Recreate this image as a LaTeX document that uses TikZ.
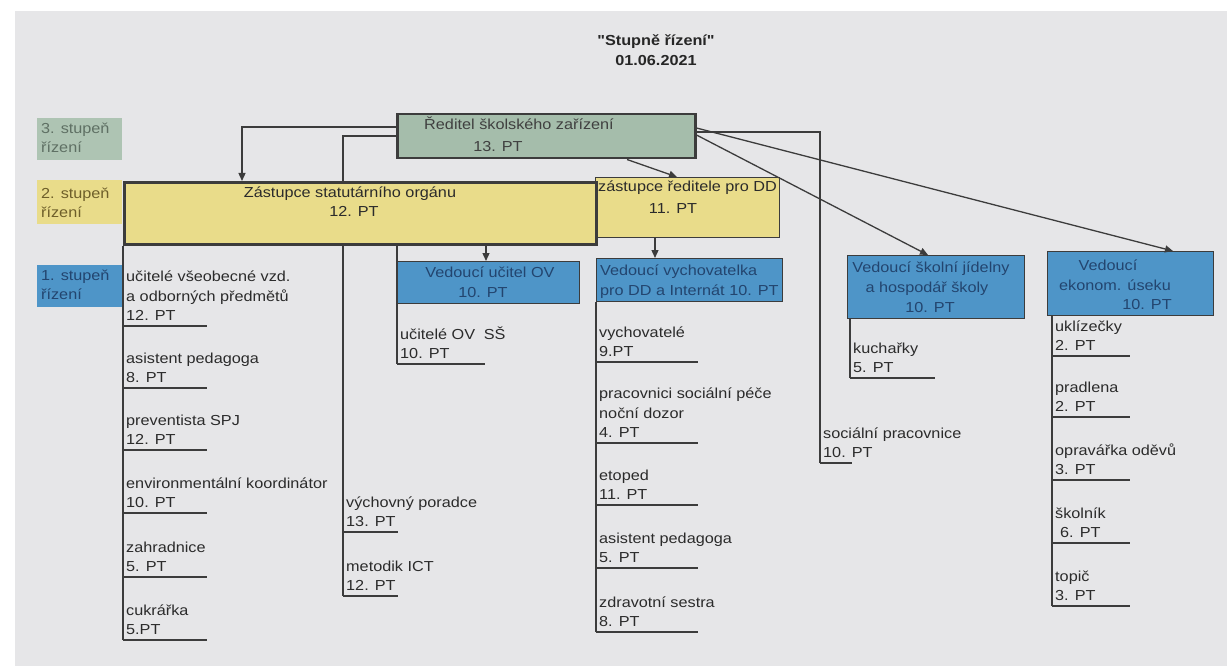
\documentclass[tikz,border=0pt]{standalone}
\usepackage{fontspec}
\setmainfont{Liberation Sans}[FakeStretch=1.12]
\usetikzlibrary{arrows.meta,calc}
\definecolor{bg}{HTML}{E6E6E8}
\definecolor{grn}{HTML}{A5BDAB}
\definecolor{yel}{HTML}{E9DC8A}
\definecolor{blu}{HTML}{4E95C8}
\definecolor{ink}{HTML}{2B2B2B}
\definecolor{navy}{HTML}{23456F}
\definecolor{grntxt}{HTML}{5F7064}
\definecolor{yeltxt}{HTML}{6E5F2A}
\definecolor{edge}{HTML}{3C3C3C}
\pgfdeclarelayer{bgfill}
\pgfdeclarelayer{lines}
\pgfsetlayers{bgfill,lines,main}
\newcommand\orgitem[5]{%
  \node[item] (#1) at (#2+3,#3-5) {#5};
  \draw[line] ($(#1.south west)+(-3,5)$) -- ++(#4,0);}
\begin{document}
\begin{tikzpicture}[x=1pt,y=-1pt,
  txt/.style={inner sep=0pt, text=ink, font=\fontsize{14.5}{19.5}\selectfont, align=left},
  item/.style={txt, anchor=south west},
  box/.style={draw=edge, line width=1.2pt, inner sep=0pt, anchor=north west},
  legend/.style={draw=none, inner sep=0pt, anchor=north west, minimum width=85pt},
  line/.style={draw=edge, line width=1.3pt},
  arr/.style={line, -{Triangle[length=8pt,width=7pt]}}]
\useasboundingbox (0,0) rectangle (1227,666);
\begin{pgfonlayer}{bgfill}
\fill[white] (0,0) rectangle (1227,666);
\fill[bg] (15,11) rectangle (1227,666);
\end{pgfonlayer}

% title
\node[txt, align=center, font=\bfseries\fontsize{14.5}{20}\selectfont\addfontfeatures{Ligatures=TeXOff}, text=black!85] (title) at (656,50) {"Stupně řízení"\\01.06.2021};

% legend
\node[legend, fill=grn!90, minimum height=42pt] (lg3) at (37,118) {};
\node[item, text=grntxt] (lg3t) at (41,153) {3. stupeň\\řízení};
\node[legend, fill=yel, minimum height=44pt] (lg2) at (37,180) {};
\node[item, text=yeltxt] (lg2t) at (41,218) {2. stupeň\\řízení};
\node[legend, fill=blu, minimum height=42pt] (lg1) at (37,265) {};
\node[item, text=navy] (lg1t) at (41,300) {1. stupeň\\řízení};

% boxes
\node[box, fill=grn, line width=2.5pt, minimum width=298pt, minimum height=44pt] (dir) at (396,113) {};
\node[box, fill=yel, minimum width=184pt, minimum height=60pt] (zrdd) at (595,177) {};
\node[box, fill=yel, line width=3pt, minimum width=472pt, minimum height=62pt] (zast) at (123,181) {};
\node[box, fill=blu, minimum width=182pt, minimum height=42pt] (ov) at (397,261) {};
\node[box, fill=blu, minimum width=186pt, minimum height=43pt] (vych) at (596,258) {};
\node[box, fill=blu, minimum width=177pt, minimum height=63pt] (jid) at (847,255) {};
\node[box, fill=blu, minimum width=166pt, minimum height=64pt] (eko) at (1047,251) {};

% box texts
\node[txt, anchor=base, text=black!75] (dirt1) at (519,130) {Ředitel školského zařízení};
\node[txt, anchor=base, text=black!75] (dirt2) at (498,152) {13. PT};
\node[txt, anchor=base] (zastt1) at (350,197) {Zástupce statutárního orgánu};
\node[txt, anchor=base] (zastt2) at (354,217) {12. PT};
\node[txt, anchor=base west] (zrddt1) at (598,192) {zástupce ředitele pro DD};
\node[txt, anchor=base] (zrddt2) at (673,213) {11. PT};
\node[txt, anchor=base, text=navy] (ovt1) at (490,277) {Vedoucí učitel OV};
\node[txt, anchor=base, text=navy] (ovt2) at (483,297) {10. PT};
\node[txt, anchor=base west, text=navy] (vycht1) at (600,275) {Vedoucí vychovatelka};
\node[txt, anchor=base west, text=navy] (vycht2) at (600,295) {pro DD a Internát 10. PT};
\node[txt, anchor=base, text=navy] (jidt1) at (931,272) {Vedoucí školní jídelny};
\node[txt, anchor=base, text=navy] (jidt2) at (927,292) {a hospodář školy};
\node[txt, anchor=base, text=navy] (jidt3) at (930,312) {10. PT};
\node[txt, anchor=base, text=navy] (ekot1) at (1108,270) {Vedoucí};
\node[txt, anchor=base, text=navy] (ekot2) at (1115,290) {ekonom. úseku};
\node[txt, anchor=base, text=navy] (ekot3) at (1147,309) {10. PT};

% lists
\orgitem{a1}{123}{326}{84}{učitelé všeobecné vzd.\\a odborných předmětů\\12. PT}
\orgitem{a2}{123}{388}{84}{asistent pedagoga\\8. PT}
\orgitem{a3}{123}{450}{84}{preventista SPJ\\12. PT}
\orgitem{a4}{123}{513}{84}{environmentální koordinátor\\10. PT}
\orgitem{a5}{123}{577}{84}{zahradnice\\5. PT}
\orgitem{a6}{123}{640}{84}{cukrářka\\5.PT}
\orgitem{b1}{343}{532}{55}{výchovný poradce\\13. PT}
\orgitem{b2}{343}{596}{55}{metodik ICT\\12. PT}
\orgitem{o1}{397}{364}{88}{učitelé OV\hspace{0.6em}SŠ\\10. PT}
\orgitem{c1}{596}{362}{102}{vychovatelé\\9.PT}
\orgitem{c2}{596}{443}{102}{pracovnici sociální péče\\noční dozor\\4. PT}
\orgitem{c3}{596}{505}{102}{etoped\\11. PT}
\orgitem{c4}{596}{568}{102}{asistent pedagoga\\5. PT}
\orgitem{c5}{596}{632}{102}{zdravotní sestra\\8. PT}
\orgitem{k1}{850}{378}{85}{kuchařky\\5. PT}
\orgitem{s1}{820}{463}{32}{sociální pracovnice\\10. PT}
\orgitem{e1}{1052}{356}{78}{uklízečky\\2. PT}
\orgitem{e2}{1052}{417}{78}{pradlena\\2. PT}
\orgitem{e3}{1052}{480}{78}{opravářka oděvů\\3. PT}
\orgitem{e4}{1052}{543}{78}{školník\\\hspace*{5pt}6. PT}
\orgitem{e5}{1052}{606}{78}{topič\\3. PT}

% vertical list lines (behind the boxes)
\begin{pgfonlayer}{lines}
\draw[line] (zast.south west) -- ($(a6.south west)+(-3,5)$);
\draw[line] ($(dir.north west)+(0,23)$) -| ($(b2.south west)+(-3,5)$);
\draw[line] (zast.south -| ov.west) -- ($(o1.south west)+(-3,5)$);
\draw[line] (vych.south west) -- ($(c5.south west)+(-3,5)$);
\draw[line] ($(jid.south west)+(3,0)$) -- ($(k1.south west)+(-3,5)$);
\draw[line] ($(dir.north east)+(0,19)$) -| ($(s1.south west)+(-3,5)$);
\draw[line] ($(eko.south west)+(5,0)$) -- ($(e5.south west)+(-3,5)$);
\end{pgfonlayer}

% arrows
\coordinate (zastIn) at ($(zast.north west)+(119,0)$);
\draw[arr] ($(dir.north west)+(0,14)$) -| (zastIn);
\draw[arr] ($(dir.south west)+(231,0)$) -- ($(zrdd.north west)+(82,0)$);
\draw[arr] ($(dir.north east)+(0,22)$) -- ($(jid.north west)+(81,0)$);
\draw[arr] ($(dir.north east)+(0,15)$) -- ($(eko.north west)+(126,0)$);
\coordinate (ovIn) at ($(ov.north west)+(89,0)$);
\draw[arr] (zast.south -| ovIn) -- (ovIn);
\coordinate (vyIn) at ($(vych.north west)+(59,0)$);
\draw[arr] (zrdd.south -| vyIn) -- (vyIn);
\end{tikzpicture}
\end{document}
